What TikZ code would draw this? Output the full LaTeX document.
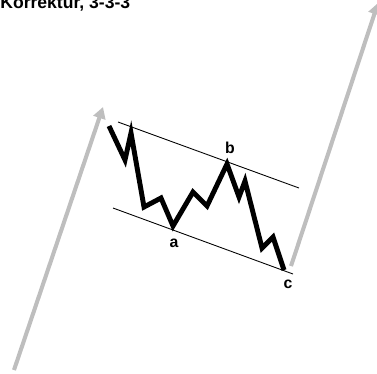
\documentclass[tikz,border=0pt]{standalone}
\usepackage{fontspec}
\setmainfont{Liberation Sans}
\usetikzlibrary{arrows.meta}
\definecolor{TrendGray}{HTML}{BEBEBE}

\begin{document}
\begin{tikzpicture}[
  x=0.02cm,y=-0.02cm,
  trend/.style={TrendGray,line width=2.3pt,-{Triangle[length=6.5pt,width=7pt]}},
  rail/.style={black,line width=0.5pt},
  wave/.style={black,line width=2.8pt,line join=miter},
  lbl/.style={font=\fontsize{9}{10}\selectfont\bfseries,inner sep=0pt},
]
\useasboundingbox (0,0) rectangle (377,373);
% title, cut at the top edge
\node[lbl,font=\fontsize{10}{12}\selectfont\bfseries,anchor=base west] (title) at (0,8.5) {Korrektur, 3-3-3};
% trend arrows
\coordinate (l0) at (14,370);
\coordinate (l1) at (103,107);
\coordinate (r0) at (291,266);
\coordinate (r1) at (378,3);
\draw[trend] (l0) -- (l1);
\draw[trend] (r0) -- (r1);
% channel
\coordinate (u0) at (118,122);
\coordinate (u1) at (299,188);
\coordinate (d0) at (113,208);
\coordinate (d1) at (293,274);
\draw[rail] (u0) -- (u1);
\draw[rail] (d0) -- (d1);
% zigzag a-b-c
\coordinate (p1) at (109,126);
\coordinate (p2) at (125,160);
\coordinate (p3) at (131,133);
\coordinate (p4) at (144,207);
\coordinate (p5) at (161,198);
\coordinate (pa) at (173,226);
\coordinate (p7) at (193,192);
\coordinate (p8) at (207,206);
\coordinate (pb) at (227,164);
\coordinate (p10) at (239,197);
\coordinate (p11) at (245,181);
\coordinate (p12) at (262,248);
\coordinate (p13) at (273,237);
\coordinate (pc) at (284,270);
\draw[wave] (p1) -- (p2) -- (p3) -- (p4) -- (p5) -- (pa) -- (p7) -- (p8)
  -- (pb) -- (p10) -- (p11) -- (p12) -- (p13) -- (pc);
\node[lbl] (a) at (174,243) {a};
\node[lbl] (b) at (230,148) {b};
\node[lbl] (c) at (288,284) {c};
\end{tikzpicture}
\end{document}
